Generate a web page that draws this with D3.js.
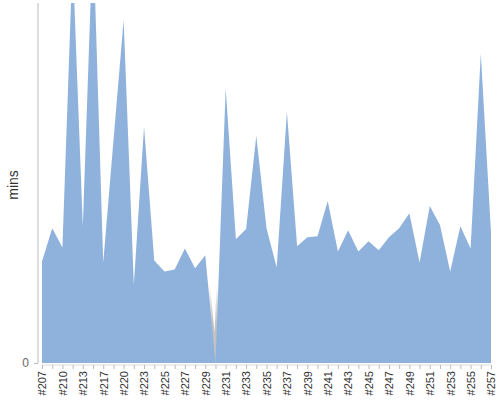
<!DOCTYPE html>
<html>
<head>
<meta charset="utf-8">
<script src="https://cdn.jsdelivr.net/npm/d3@7"></script>
<style>
  body { margin: 0; background: #fff; }
  svg { display: block; font-family: "Liberation Sans", Arial, sans-serif; }
</style>
</head>
<body>
<svg id="chart" width="500" height="400"></svg>
<script>
// build numbers along the x axis (only every other one gets a label)
const builds = [
  "#207", "#208", "#210", "#211", "#213", "#215", "#217", "#218", "#220", "#221",
  "#223", "#224", "#225", "#226", "#227", "#228", "#229", "#230", "#231", "#232",
  "#233", "#234", "#235", "#236", "#237", "#238", "#239", "#240", "#241", "#242",
  "#243", "#244", "#245", "#246", "#247", "#248", "#249", "#250", "#251", "#252",
  "#253", "#254", "#255", "#256", "#257"
];
// duration per build, mins
const mins = [
  28.2, 37.4, 32.1, 112.6, 38.0, 120.0, 27.9, 61.7, 95.3, 21.8,
  65.6, 28.5, 25.4, 26.0, 31.8, 26.3, 29.9, 0, 76.3, 34.4,
  37.2, 63.1, 37.4, 26.5, 69.8, 32.4, 34.9, 35.2, 45.0, 31.0,
  36.9, 31.0, 33.8, 31.3, 34.9, 37.4, 41.6, 27.9, 43.6, 38.3,
  25.4, 38.0, 31.8, 86.0, 36.3
];
const yTicks = [0];
const yMax = 100;

const svg = d3.select("#chart");
const padding = { top: 3, right: 9, bottom: 37, left: 42 };
const width = 500 - padding.left - padding.right;
const height = 400 - padding.top - padding.bottom;

const xScale = d3.scalePoint().domain(builds).range([0, width]);
const yScale = d3.scaleLinear().domain([0, yMax]).range([height, 0]);

const g = svg.append("g")
  .attr("transform", `translate(${padding.left},${padding.top})`);

const defs = g.append("defs");
defs.append("clipPath").attr("id", "plot")
  .append("rect").attr("x", 0).attr("y", 0).attr("width", width).attr("height", height);

// gray edge shading that fades in toward the baseline
const grad = defs.append("linearGradient").attr("id", "edge")
  .attr("gradientUnits", "userSpaceOnUse")
  .attr("x1", 0).attr("x2", 0)
  .attr("y1", yScale(22)).attr("y2", yScale(0));
grad.append("stop").attr("offset", 0).attr("stop-color", "#c2c2c2").attr("stop-opacity", 0);
grad.append("stop").attr("offset", 0.5).attr("stop-color", "#c2c2c2").attr("stop-opacity", 1);
grad.append("stop").attr("offset", 1).attr("stop-color", "#c2c2c2").attr("stop-opacity", 1);

const data = builds.map((b, i) => ({ build: b, value: mins[i] }));

const area = d3.area()
  .x((d) => xScale(d.build))
  .y0(yScale(0))
  .y1((d) => yScale(d.value));

const line = d3.line()
  .x((d) => xScale(d.build))
  .y((d) => yScale(d.value));

g.append("path")
  .datum(data)
  .attr("clip-path", "url(#plot)")
  .attr("d", line)
  .attr("fill", "none")
  .attr("stroke", "url(#edge)")
  .attr("stroke-width", 4);

g.append("path")
  .datum(data)
  .attr("clip-path", "url(#plot)")
  .attr("d", area)
  .attr("fill", "#8fb2dc");

// y axis
const yAxis = svg.append("g")
  .attr("transform", `translate(${padding.left - 4},${padding.top})`)
  .call(d3.axisLeft(yScale).tickValues(yTicks).tickSize(4).tickPadding(5));
yAxis.select(".domain").attr("stroke", "#bbb").attr("d", `M0,0V${height}`);
yAxis.selectAll(".tick line").attr("stroke", "#bbb");
yAxis.selectAll(".tick text").attr("fill", "#666").style("font-size", "12px");

svg.append("text")
  .attr("transform", `translate(18,${padding.top + height / 2 + 2}) rotate(-90)`)
  .attr("text-anchor", "middle")
  .attr("fill", "#333")
  .style("font-size", "14px")
  .text("mins");

// x axis
const xAxis = svg.append("g")
  .attr("transform", `translate(${padding.left},${padding.top + height + 2})`)
  .call(d3.axisBottom(xScale).tickSize(4).tickFormat((d, i) => (i % 2 === 0 ? d : "")));
xAxis.select(".domain").attr("stroke", "#ddd").attr("d", `M0,0H${width}`);
xAxis.selectAll(".tick line").attr("stroke", "#bbb");
xAxis.selectAll(".tick text")
  .attr("fill", "#333")
  .style("font-size", "11px")
  .attr("text-anchor", "end")
  .attr("transform", "rotate(-90)")
  .attr("x", -6)
  .attr("y", 0)
  .attr("dy", "0.35em");
</script>
</body>
</html>
